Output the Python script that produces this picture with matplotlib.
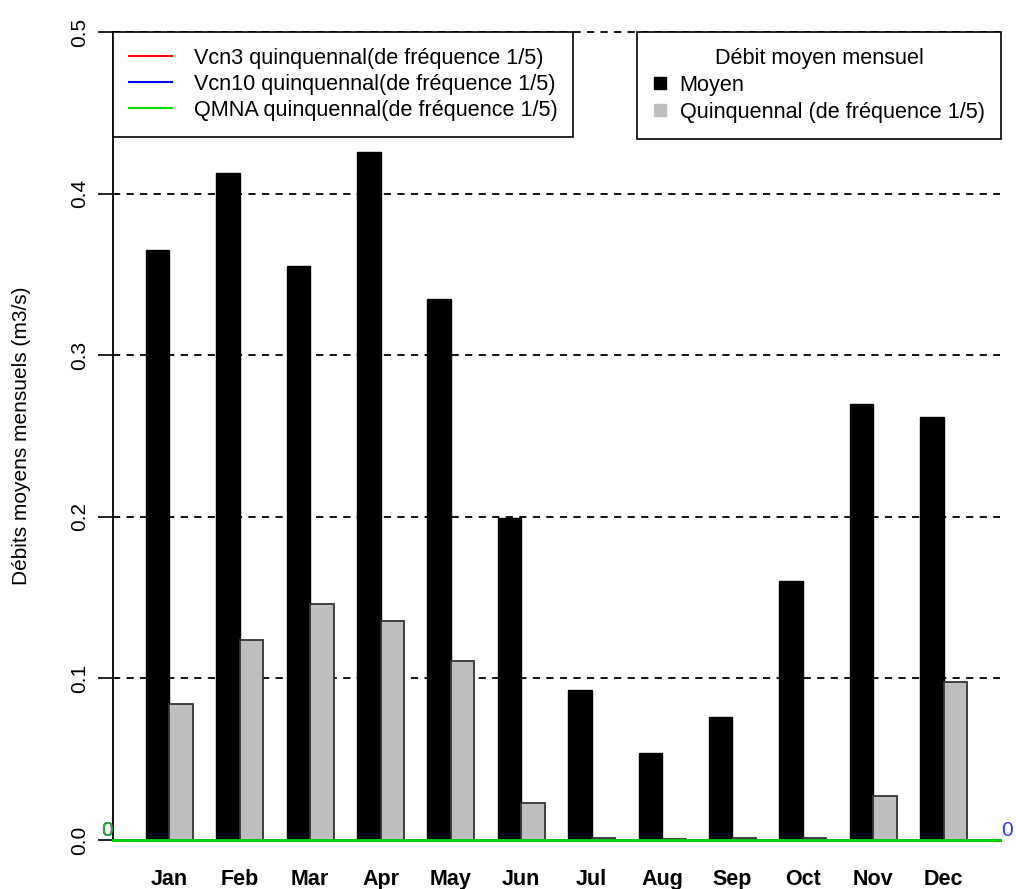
import matplotlib.pyplot as plt
from matplotlib.lines import Line2D

plt.rcParams['font.family'] = ['Liberation Sans', 'DejaVu Sans']

# données
mois = ['Jan', 'Feb', 'Mar', 'Apr', 'May', 'Jun', 'Jul', 'Aug', 'Sep', 'Oct', 'Nov', 'Dec']
moyen = [0.365, 0.413, 0.355, 0.426, 0.335, 0.199, 0.093, 0.054, 0.076, 0.160, 0.270, 0.262]
quinquennal = [0.084, 0.124, 0.146, 0.1355, 0.111, 0.023, 0.001, 0.0005, 0.001, 0.001, 0.027, 0.098]
vcn3 = 0
vcn10 = 0
qmna = 0
y_ticks = [0.0, 0.1, 0.2, 0.3, 0.4, 0.5]

fig = plt.figure(figsize=(10.16, 8.89), dpi=100)
ax = fig.add_axes([113/1016, 49/889, 887/1016, 808/889])

# positions comme barplot(beside=TRUE) de R
x_moy = [1.5 + 3*i for i in range(12)]
x_qui = [2.5 + 3*i for i in range(12)]
x_lab = [2 + 3*i for i in range(12)]

for yv in y_ticks[1:]:
    ax.axhline(yv, color='black', lw=1.3, ls=(0, (4, 3.5)), zorder=0.5, clip_on=False)

ax.bar(x_moy, moyen, width=1, color='black', edgecolor='black', lw=1, zorder=2)
ax.bar(x_qui, quinquennal, width=1, color='#bebebe', edgecolor='#333333', lw=1.3, zorder=2)

ax.axhline(vcn3, color='red', lw=2, zorder=3, clip_on=False)
ax.axhline(vcn10, color='blue', lw=2, zorder=3, clip_on=False)
ax.axhline(qmna, color='#00dd00', lw=2, zorder=3, clip_on=False)

ax.set_xlim(-0.4, 37.4)
ax.set_ylim(0, 0.5)

# étiquettes des valeurs
for v, c in [(vcn3, 'red'), (vcn10, 'blue'), (qmna, '#22bb22')]:
    ax.text(-0.4, v, str(v), color=c, ha='right', va='bottom', fontsize=15, clip_on=False)
ax.text(37.45, vcn10, str(vcn10), color='#3333ff', ha='left', va='bottom', fontsize=15, clip_on=False)

for s in ['top', 'right', 'bottom']:
    ax.spines[s].set_visible(False)
ax.spines['left'].set_linewidth(1.3)

ax.set_yticks(y_ticks)
ax.set_yticklabels(['%.1f' % t for t in y_ticks], rotation=90, va='center', fontsize=15)
ax.tick_params(axis='y', length=11, width=1.2, pad=6)
ax.set_xticks(x_lab)
ax.set_xticklabels(mois, fontweight='bold', fontsize=15.5)
ax.tick_params(axis='x', length=0, pad=21)

ax.set_ylabel('Débits moyens mensuels (m3/s)', fontsize=15, labelpad=28)

h1 = [Line2D([], [], color='red', lw=1.5),
      Line2D([], [], color='blue', lw=1.5),
      Line2D([], [], color='#00dd00', lw=1.5)]
leg1 = ax.legend(h1, ['Vcn3 quinquennal(de fréquence 1/5)',
                      'Vcn10 quinquennal(de fréquence 1/5)',
                      'QMNA quinquennal(de fréquence 1/5)'],
                 loc='upper left', bbox_to_anchor=(0, 1), borderaxespad=0,
                 fontsize=15.6, fancybox=False, edgecolor='black', framealpha=1,
                 handlelength=2.0, handletextpad=1.0, labelspacing=0.24, borderpad=0.72)
leg1.get_frame().set_linewidth(1.2)
leg1.set_zorder(5)
ax.add_artist(leg1)

h2 = [Line2D([], [], color='black', marker='s', ls='', ms=9),
      Line2D([], [], color='#bebebe', marker='s', ls='', ms=9)]
leg2 = ax.legend(h2, ['Moyen', 'Quinquennal (de fréquence 1/5)'],
                 title='Débit moyen mensuel', title_fontsize=15.6,
                 loc='upper right', bbox_to_anchor=(1.001, 1), borderaxespad=0,
                 fontsize=15.6, fancybox=False, edgecolor='black', framealpha=1,
                 handlelength=0.6, handletextpad=0.6, labelspacing=0.26, borderpad=0.75)
leg2.get_frame().set_linewidth(1.2)
leg2.set_zorder(5)

plt.savefig('out.png', dpi=100)
